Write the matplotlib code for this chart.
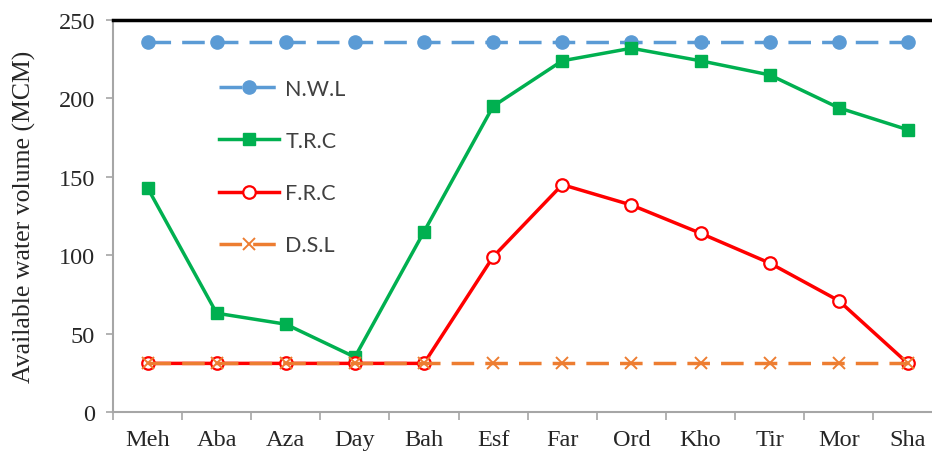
import numpy as np
import matplotlib.pyplot as plt

sitios = ['Meh', 'Aba', 'Aza', 'Day', 'Bah', 'Esf', 'Far', 'Ord', 'Kho', 'Tir', 'Mor', 'Sha']

nwl = [236, 236, 236, 236, 236, 236, 236, 236, 236, 236, 236, 236]
trc = [143, 63, 56, 35, 115, 195, 224, 232, 224, 215, 194, 180]
frc = [31, 31, 31, 31, 31, 99, 145, 132, 114, 95, 71, 31]
dsl = [31, 31, 31, 31, 31, 31, 31, 31, 31, 31, 31, 31]

x = np.arange(len(sitios))

fig = plt.figure(figsize=(9.32, 4.52), dpi=100)
ax = fig.add_axes([0.1212, 0.0863, 0.890, 0.8672])

# Series
ax.plot(x, nwl, color='#5B9BD5', linewidth=2.5, dashes=(6.5, 3.2), marker='o',
        markersize=9.5, label='N.W.L')
ax.plot(x, trc, color='#00B050', linewidth=2.5, marker='s', markersize=9, label='T.R.C')
ax.plot(x, frc, color='#FF0000', linewidth=2.5, marker='o', markersize=9,
        markerfacecolor='white', markeredgewidth=1.6, label='F.R.C')
ax.plot(x, dsl, color='#ED7D31', linewidth=2.5, dashes=(6.5, 3.2), marker='x',
        markersize=8, markeredgewidth=1.4, label='D.S.L')

ax.set_xlim(-0.5, 11.5)
ax.set_ylim(0, 250)

# Ejes
ax.set_yticks(np.arange(0, 251, 50))
ax.set_xticks(np.arange(-0.5, 12, 1))
ax.set_xticklabels([])
ax.set_xticks(x, minor=True)
ax.set_xticklabels(sitios, minor=True)
ax.tick_params(axis='x', which='minor', length=0, pad=12)
ax.tick_params(axis='x', which='major', length=6, color='#A6A6A6', width=1.2)
ax.tick_params(axis='y', length=5, color='#A6A6A6', width=1.2, pad=8)
for lab in ax.get_xticklabels(minor=True) + ax.get_yticklabels():
    lab.set_fontfamily('Liberation Serif')
    lab.set_fontsize(17.5)
    lab.set_color('#262626')

for s in ['left', 'bottom']:
    ax.spines[s].set_color('#A6A6A6')
    ax.spines[s].set_linewidth(1.5)
ax.spines['top'].set_color('black')
ax.spines['top'].set_linewidth(2.5)
ax.spines['right'].set_visible(False)

ax.set_ylabel('Available water volume (MCM)', fontfamily='Liberation Serif',
              fontsize=18.5, color='#262626', labelpad=16)

leg = ax.legend(loc='upper left', bbox_to_anchor=(0.104, 0.9), frameon=False,
                prop={'family': 'Lato', 'size': 15.5}, handlelength=2.8,
                handletextpad=0.3, labelspacing=1.5)
for t in leg.get_texts():
    t.set_color('#404040')

fig.savefig('out.png', dpi=100)
